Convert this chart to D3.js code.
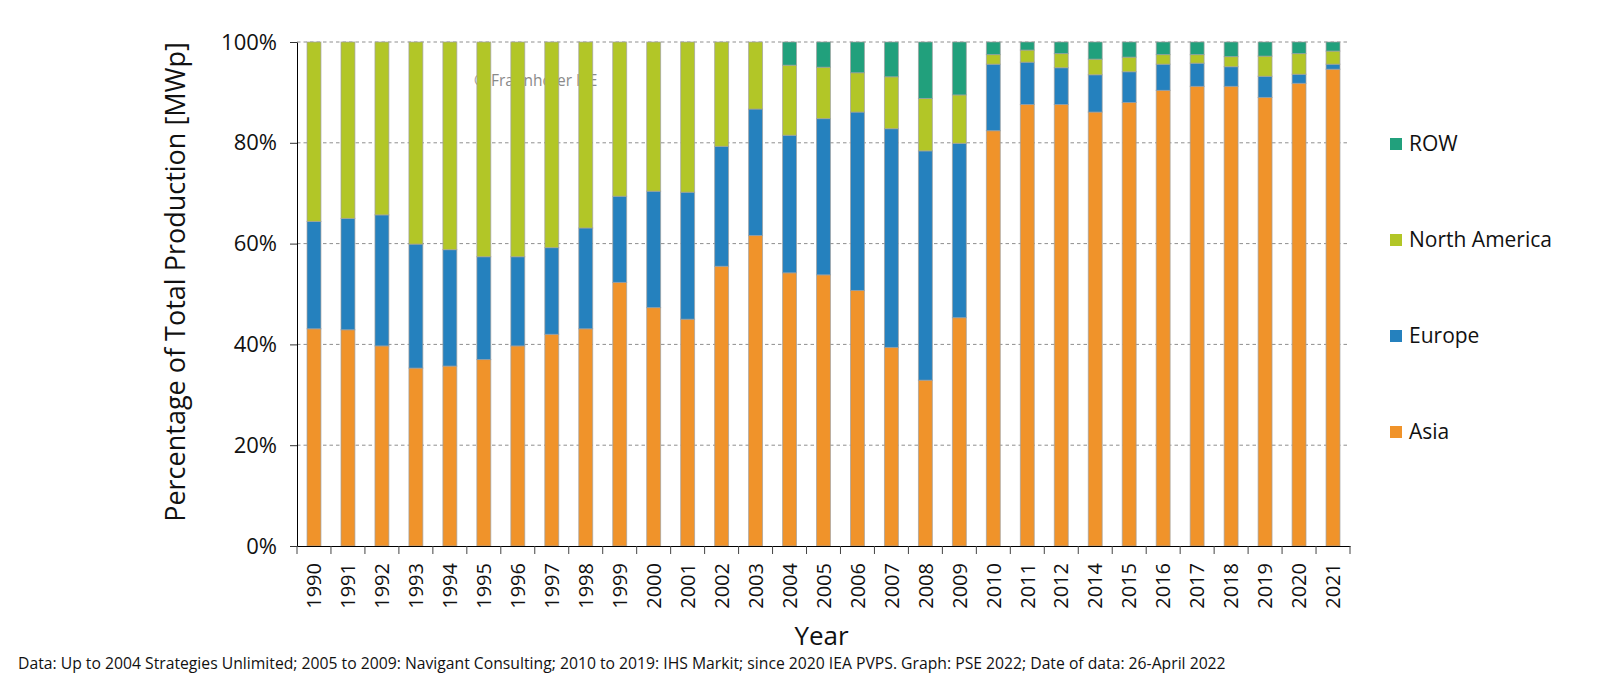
<!DOCTYPE html>
<html>
<head>
<meta charset="utf-8">
<script src="https://cdn.jsdelivr.net/npm/d3@7"></script>
<style>
  html, body { margin: 0; padding: 0; background: #fff; }
  svg { display: block; }
  text { font-family: "Open Sans", "Noto Sans", sans-serif; }
</style>
</head>
<body>
<svg id="chart" width="1600" height="688"></svg>
<script>
// ---- data (shares of total production, %) ----
const years = ["1990","1991","1992","1993","1994","1995","1996","1997","1998","1999",
  "2000","2001","2002","2003","2004","2005","2006","2007","2008","2009",
  "2010","2011","2012","2014","2015","2016","2017","2018","2019","2020","2021"];
const asia = [43.1,42.9,39.7,35.3,35.7,37.0,39.7,42.0,43.1,52.3,
  47.3,45.0,55.5,61.6,54.2,53.8,50.7,39.4,32.9,45.3,
  82.4,87.6,87.6,86.1,88.0,90.4,91.2,91.2,89.0,91.8,94.6];
const europe = [21.3,22.1,26.0,24.6,23.1,20.4,17.7,17.2,20.0,17.1,
  23.1,25.2,23.8,25.1,27.3,31.0,35.4,43.4,45.5,34.6,
  13.2,8.4,7.3,7.4,6.1,5.2,4.6,3.9,4.2,1.8,1.0];
const northAmerica = [35.6,35.0,34.3,40.1,41.2,42.6,42.6,40.8,36.9,30.6,
  29.6,29.8,20.7,13.3,13.9,10.2,7.8,10.3,10.4,9.6,
  1.9,2.4,2.8,3.1,2.9,1.9,1.7,2.0,4.0,4.1,2.6];
const row = [0,0,0,0,0,0,0,0,0,0,
  0,0,0,0,4.6,5.0,6.1,6.9,11.2,10.5,
  2.5,1.6,2.3,3.4,3.0,2.5,2.5,2.9,2.8,2.3,1.8];
const seriesNames = ["Asia","Europe","North America","ROW"];
const yTicks = [0,20,40,60,80,100];
const yTickLabels = ["0%","20%","40%","60%","80%","100%"];

const colors = {"Asia":"#F0932A","Europe":"#2581BE","North America":"#B2C627","ROW":"#21A07C"};

const table = years.map((yr,i)=>({year:yr, "Asia":asia[i], "Europe":europe[i], "North America":northAmerica[i], "ROW":row[i]}));

const svg = d3.select("#chart");
const plotLeft = 297, plotRight = 1350, plotTop = 42, plotBottom = 546;

const x = d3.scaleBand().domain(years).range([plotLeft, plotRight]).paddingInner(0.59).paddingOuter(0.295);
const y = d3.scaleLinear().domain([0,100]).range([plotBottom, plotTop]);

// watermark (behind bars)
svg.append("text").attr("x", 474).attr("y", 86).attr("font-size", 15.5).attr("fill", "#8a8a8a")
  .text("© Fraunhofer ISE");

// gridlines
svg.append("g").selectAll("line").data(yTicks.filter(d=>d>0)).join("line")
  .attr("x1", plotLeft).attr("x2", plotRight)
  .attr("y1", d=>y(d)).attr("y2", d=>y(d))
  .attr("stroke", "#8f8f8f").attr("stroke-width", 1).attr("stroke-dasharray", "3.5,3");

// bars
const stack = d3.stack().keys(seriesNames)(table);
svg.append("g").selectAll("g").data(stack).join("g")
  .attr("fill", d=>colors[d.key])
  .selectAll("rect").data(d=>d.filter(p=>p[1]-p[0]>0)).join("rect")
  .attr("x", d=>x(d.data.year))
  .attr("width", x.bandwidth())
  .attr("y", d=>y(d[1]))
  .attr("height", d=>y(d[0])-y(d[1]))
  .attr("stroke", "rgba(160,160,160,0.7)").attr("stroke-width", 1);

// y axis
const yAxis = svg.append("g").attr("transform", `translate(${plotLeft},0)`)
  .call(d3.axisLeft(y).tickValues(yTicks).tickFormat((d,i)=>yTickLabels[i]).tickSize(7).tickSizeOuter(0));
yAxis.select(".domain").attr("stroke", "#000");
yAxis.selectAll(".tick line").attr("stroke", "#333");
yAxis.selectAll(".tick text").attr("font-size", 22).attr("fill", "#111").attr("x", -20)
  .attr("font-family", "'Open Sans', sans-serif");

// x axis
const xAxis = svg.append("g").attr("transform", `translate(0,${plotBottom})`)
  .call(d3.axisBottom(x).tickSize(0).tickSizeOuter(0));
xAxis.select(".domain").attr("stroke", "#000");
xAxis.selectAll(".tick text")
  .attr("font-size", 20).attr("fill", "#111")
  .attr("font-family", "'Open Sans', sans-serif")
  .attr("text-anchor", "end")
  .attr("transform", "translate(0,17) rotate(-90)")
  .attr("x", 0).attr("y", 0).attr("dy", "0.36em");
// boundary ticks between bands
const boundaries = years.map(yr => x(yr) - x.step()*x.paddingInner()/2).concat([plotRight]);
svg.append("g").selectAll("line").data(boundaries).join("line")
  .attr("x1", d=>d).attr("x2", d=>d).attr("y1", plotBottom).attr("y2", plotBottom+8)
  .attr("stroke", "#444").attr("stroke-width", 1);

// axis titles
svg.append("text").attr("transform", `translate(185,${(plotTop+plotBottom)/2 - 12}) rotate(-90)`)
  .attr("text-anchor", "middle").attr("font-size", 27).attr("fill", "#111")
  .text("Percentage of Total Production [MWp]");
svg.append("text").attr("x", (plotLeft+plotRight)/2 - 2).attr("y", 645).attr("text-anchor", "middle")
  .attr("font-size", 26).attr("fill", "#111").text("Year");

// footnote
const foot = svg.append("text").attr("x", 18).attr("y", 669).attr("font-size", 14).attr("fill", "#111")
  .text("Data: Up to 2004 Strategies Unlimited; 2005 to 2009: Navigant Consulting; 2010 to 2019: IHS Markit; since 2020 IEA PVPS. Graph: PSE 2022; Date of data: 26-April 2022");
const fw = foot.node().getComputedTextLength();
foot.attr("font-size", 14 * 1209 / fw);

// legend
const legendItems = ["ROW","North America","Europe","Asia"];
const lg = svg.append("g").selectAll("g").data(legendItems).join("g")
  .attr("transform", (d,i)=>`translate(1390,${144 + i*96})`);
lg.append("rect").attr("x", 0).attr("y", -6).attr("width", 12).attr("height", 12).attr("fill", d=>colors[d]);
lg.append("text").attr("x", 19).attr("y", 0).attr("dy", "0.35em").attr("font-size", 21).attr("fill", "#111").text(d=>d);
</script>
</body>
</html>
